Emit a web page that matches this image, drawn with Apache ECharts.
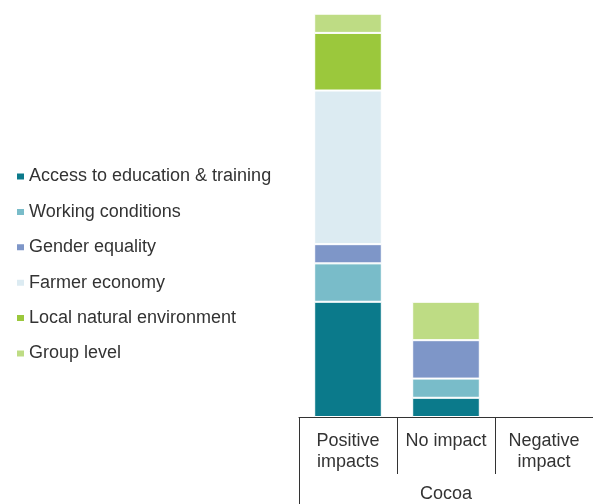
<!DOCTYPE html>
<html><head><meta charset="utf-8">
<script src="https://cdn.jsdelivr.net/npm/echarts@6/dist/echarts.min.js"></script>
<style>html,body{margin:0;padding:0;background:#fff}#c{width:593px;height:504px}</style>
</head><body><div id="c"></div>
<script>
const categories = ['Positive\nimpacts', 'No impact', 'Negative\nimpact'];
const groupLabel = ['Cocoa'];
const seriesNames = ['Access to education & training', 'Working conditions', 'Gender equality', 'Farmer economy', 'Local natural environment', 'Group level'];
const accessEducation = [6, 1, 0];
const workingConditions = [2, 1, 0];
const genderEquality = [1, 2, 0];
const farmerEconomy = [8, 0, 0];
const localEnvironment = [3, 0, 0];
const groupLevel = [1, 2, 0];
const colors = ['#0b7a8b', '#79bcc9', '#7e96c8', '#dcebf2', '#9bc83c', '#bedc84'];

const values = [accessEducation, workingConditions, genderEquality, farmerEconomy, localEnvironment, groupLevel];
const font = 'Liberation Sans, Arial, sans-serif';
const chart = echarts.init(document.getElementById('c'), null, {renderer: 'canvas'});
chart.setOption({
  animation: false,
  color: colors,
  legend: {
    orient: 'vertical', left: 15, top: 167.5, padding: 0,
    itemWidth: 9, itemHeight: 8, itemGap: 17.4,
    icon: 'rect',
    textStyle: {fontFamily: font, fontSize: 18, color: '#333333', lineHeight: 18, padding: [0, 0, 0, -1]},
    data: seriesNames
  },
  grid: {left: 299, width: 297, top: 13.7, bottom: 87, containLabel: false},
  xAxis: [{
    type: 'category', data: categories, position: 'bottom',
    axisLine: {show: true, lineStyle: {color: '#333333', width: 1}},
    axisTick: {show: true, length: 57, interval: 0, lineStyle: {color: '#333333', width: 1}},
    axisLabel: {interval: 0, margin: 14, fontFamily: font, fontSize: 18, color: '#333333', lineHeight: 21}
  }, {
    type: 'category', data: groupLabel, position: 'bottom', offset: 57,
    axisLine: {show: false},
    axisTick: {show: true, length: 31, interval: 0, lineStyle: {color: '#333333', width: 1}},
    axisLabel: {margin: 10, fontFamily: font, fontSize: 18, color: '#333333', lineHeight: 20}
  }],
  yAxis: {type: 'value', min: 0, max: 21, show: false},
  series: seriesNames.map((n, i) => ({
    name: n, type: 'bar', stack: 'a', xAxisIndex: 0,
    barWidth: '69%',
    itemStyle: {color: colors[i], borderColor: '#ffffff', borderWidth: 1},
    data: values[i].map(v => v === 0 ? '-' : v)
  }))
});
</script></body></html>
